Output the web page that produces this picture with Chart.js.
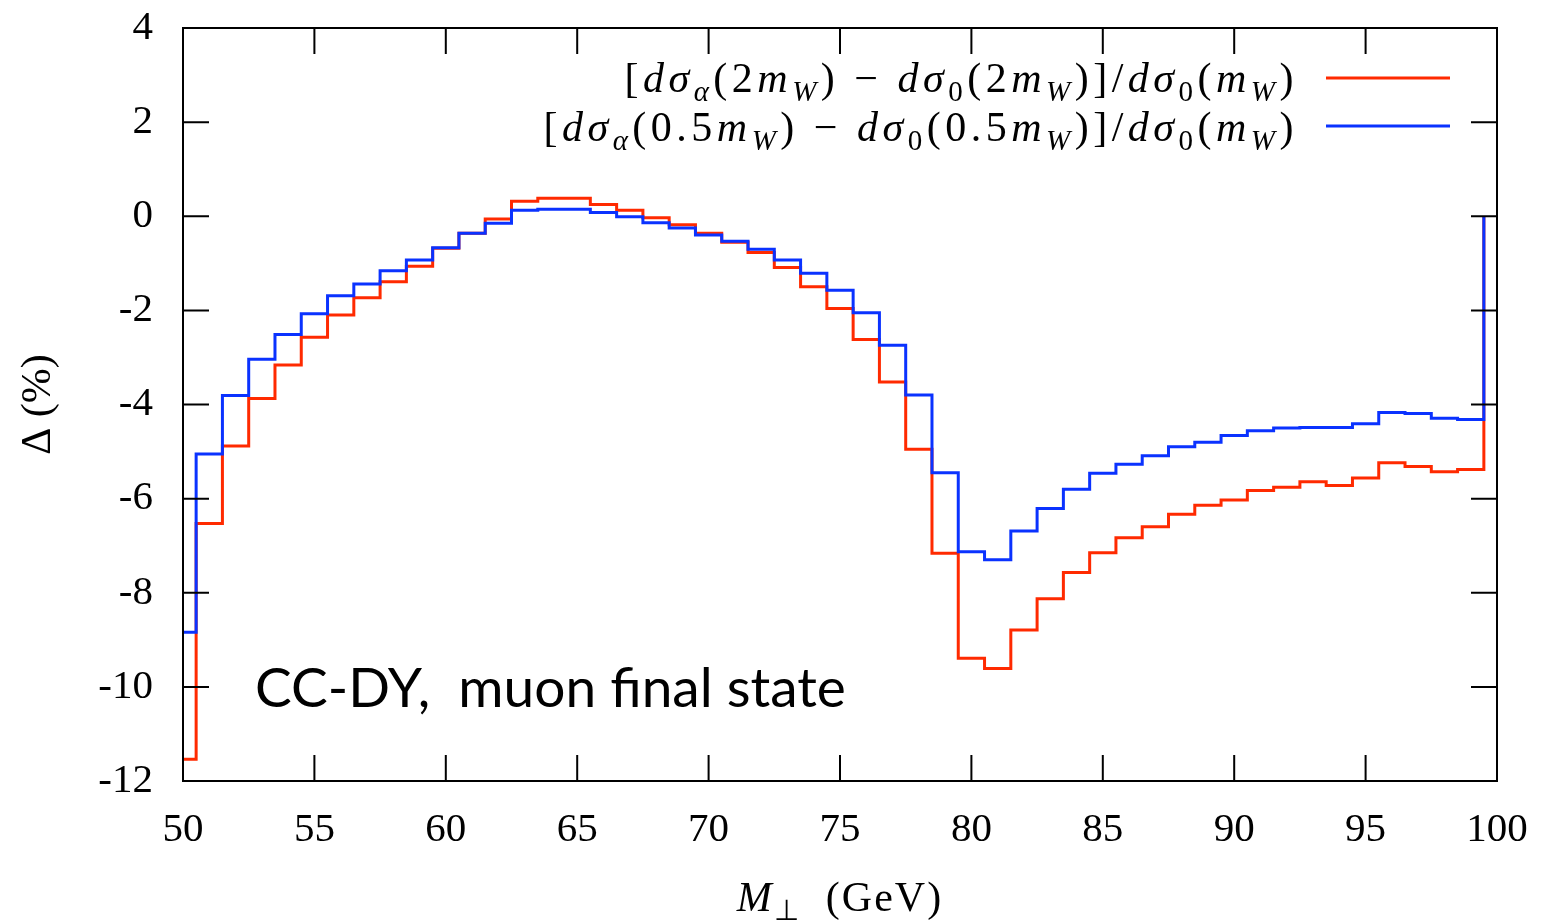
<!DOCTYPE html>
<html>
<head>
<meta charset="utf-8">
<title>CC-DY, muon final state</title>
<script src="https://cdn.jsdelivr.net/npm/chart.js@4/dist/chart.umd.min.js"></script>
<style>
  body { margin: 0; background: #fff; }
</style>
</head>
<body>
<canvas id="deltaChart" width="1542" height="922"></canvas>
<script>
// bin centres of M_perp (GeV), 1 GeV bins
const mPerp = [50, 51, 52, 53, 54, 55, 56, 57, 58, 59,
               60, 61, 62, 63, 64, 65, 66, 67, 68, 69,
               70, 71, 72, 73, 74, 75, 76, 77, 78, 79,
               80, 81, 82, 83, 84, 85, 86, 87, 88, 89,
               90, 91, 92, 93, 94, 95, 96, 97, 98, 99];
const binHalfWidth = 0.5;

// [dsigma_alpha(2mW) - dsigma_0(2mW)] / dsigma_0(mW)  (%)
const deltaTwoMw = [-11.54, -6.53, -4.88, -3.87, -3.16, -2.57, -2.10, -1.73, -1.39, -1.06,
                    -0.68, -0.36, -0.06, 0.32, 0.38, 0.38, 0.25, 0.13, -0.03, -0.18,
                    -0.36, -0.55, -0.77, -1.09, -1.50, -1.96, -2.62, -3.52, -4.95, -7.16,
                    -9.39, -9.61, -8.79, -8.13, -7.57, -7.15, -6.83, -6.60, -6.33, -6.14,
                    -6.03, -5.83, -5.76, -5.64, -5.72, -5.56, -5.24, -5.32, -5.43, -5.38];

// [dsigma_alpha(0.5mW) - dsigma_0(0.5mW)] / dsigma_0(mW)  (%)
const deltaHalfMw = [-8.84, -5.05, -3.81, -3.04, -2.51, -2.07, -1.69, -1.44, -1.16, -0.93,
                     -0.67, -0.36, -0.15, 0.13, 0.15, 0.15, 0.08, -0.01, -0.14, -0.25,
                     -0.40, -0.53, -0.70, -0.93, -1.21, -1.57, -2.05, -2.74, -3.80, -5.45,
                     -7.13, -7.30, -6.69, -6.21, -5.80, -5.46, -5.27, -5.09, -4.90, -4.80,
                     -4.66, -4.56, -4.50, -4.49, -4.49, -4.41, -4.17, -4.19, -4.29, -4.32];

const xTicks = [50, 55, 60, 65, 70, 75, 80, 85, 90, 95, 100];
const yTicks = [-12, -10, -8, -6, -4, -2, 0, 2, 4];

const redLine = '#ff2a00';
const blueLine = '#0a32ff';
const serif = '"Liberation Serif", serif';

// legend / title text, split into [text, style] pieces: i = italic, s = subscript
const legendTwoMw = [['[', ''], ['dσ', 'i'], ['α', 'is'], ['(2', ''], ['m', 'i'], ['W', 'is'],
  [') − ', ''], ['dσ', 'i'], ['0', 's'], ['(2', ''], ['m', 'i'], ['W', 'is'], [')]/', ''],
  ['dσ', 'i'], ['0', 's'], ['(', ''], ['m', 'i'], ['W', 'is'], [')', '']];
const legendHalfMw = [['[', ''], ['dσ', 'i'], ['α', 'is'], ['(0.5', ''], ['m', 'i'], ['W', 'is'],
  [') − ', ''], ['dσ', 'i'], ['0', 's'], ['(0.5', ''], ['m', 'i'], ['W', 'is'], [')]/', ''],
  ['dσ', 'i'], ['0', 's'], ['(', ''], ['m', 'i'], ['W', 'is'], [')', '']];
const xTitle = [['M', 'i'], ['⊥', 's'], ['  (GeV)', '']];
const yTitle = 'Δ (%)';
const note = 'CC-DY,  muon final state';

// histogram steps: centre points, then close the last bin back to zero
function histPoints(vals) {
  const pts = mPerp.map((m, i) => ({ x: m, y: vals[i] }));
  const last = mPerp[mPerp.length - 1] + binHalfWidth;
  pts.push({ x: last, y: vals[vals.length - 1] });
  pts.push({ x: last, y: 0 });
  return pts;
}

function richFont(st, size) {
  const sz = st.includes('s') ? size * 0.7 : size;
  return (st.includes('i') ? 'italic ' : '') + Math.round(sz) + 'px ' + serif;
}
function richWidth(ctx, parts, size) {
  let w = 0;
  parts.forEach(([t, st]) => { ctx.font = richFont(st, size); w += ctx.measureText(t).width; });
  return w;
}
function drawRich(ctx, parts, x, baseline, size) {
  parts.forEach(([t, st]) => {
    ctx.font = richFont(st, size);
    ctx.fillText(t, x, baseline + (st.includes('s') ? size * 0.22 : 0));
    x += ctx.measureText(t).width;
  });
}

// gnuplot-like frame, inward ticks on all sides, legend and labels
const framePlugin = {
  id: 'frame',
  afterDraw(chart) {
    const { ctx, chartArea: a, scales: { x, y } } = chart;
    ctx.save();
    ctx.strokeStyle = '#000';
    ctx.lineWidth = 2;
    const tl = 26;
    ctx.beginPath();
    xTicks.forEach(v => {
      const px = x.getPixelForValue(v);
      ctx.moveTo(px, a.bottom); ctx.lineTo(px, a.bottom - tl);
      ctx.moveTo(px, a.top); ctx.lineTo(px, a.top + tl);
    });
    yTicks.forEach(v => {
      const py = y.getPixelForValue(v);
      ctx.moveTo(a.left, py); ctx.lineTo(a.left + tl, py);
      ctx.moveTo(a.right, py); ctx.lineTo(a.right - tl, py);
    });
    ctx.stroke();
    ctx.strokeRect(a.left, a.top, a.right - a.left, a.bottom - a.top);

    // legend
    const size = 42;
    ctx.fillStyle = '#000';
    ctx.textBaseline = 'alphabetic';
    ctx.letterSpacing = '4.5px';
    const rows = [[legendTwoMw, redLine, 78, 92], [legendHalfMw, blueLine, 126, 141]];
    rows.forEach(([parts, col, ly, base]) => {
      const w = richWidth(ctx, parts, size);
      drawRich(ctx, parts, 1298 - w, base, size);
      ctx.strokeStyle = col;
      ctx.lineWidth = 3;
      ctx.beginPath();
      ctx.moveTo(1326, ly); ctx.lineTo(1450, ly);
      ctx.stroke();
    });

    // x axis title
    ctx.letterSpacing = '2px';
    const xw = richWidth(ctx, xTitle, 42);
    drawRich(ctx, xTitle, (a.left + a.right) / 2 - xw / 2, 911, 42);
    ctx.letterSpacing = '0px';

    // annotation
    ctx.font = '55px Lato, "Noto Sans", sans-serif';
    ctx.fillText(note, 255, 707);
    ctx.restore();
  }
};

// keep the plot box where gnuplot put it: no extra padding for overhanging labels
function noOverhang(s) {
  s.paddingTop = 0; s.paddingBottom = 0; s.paddingLeft = 0; s.paddingRight = 0;
}

const ctx = document.getElementById('deltaChart').getContext('2d');
new Chart(ctx, {
  type: 'line',
  data: {
    datasets: [
      {
        label: 'two_mW',
        data: histPoints(deltaTwoMw),
        borderColor: redLine,
        borderWidth: 3,
        stepped: 'middle',
        pointRadius: 0,
        fill: false,
        order: 1
      },
      {
        label: 'half_mW',
        data: histPoints(deltaHalfMw),
        borderColor: blueLine,
        borderWidth: 3,
        stepped: 'middle',
        pointRadius: 0,
        fill: false,
        order: 0
      }
    ]
  },
  options: {
    responsive: false,
    animation: false,
    layout: { padding: { top: 28, right: 45, left: 0, bottom: 0 } },
    plugins: { legend: { display: false }, tooltip: { enabled: false } },
    scales: {
      x: {
        type: 'linear',
        min: 50,
        max: 100,
        afterBuildTicks: s => { s.ticks = xTicks.map(v => ({ value: v })); },
        afterFit: s => { s.height = 141; noOverhang(s); },
        grid: { display: false },
        border: { display: false },
        ticks: { color: '#000', padding: 17, maxRotation: 0, font: { family: serif, size: 41 } }
      },
      y: {
        min: -12,
        max: 4,
        afterBuildTicks: s => { s.ticks = yTicks.map(v => ({ value: v })); },
        afterFit: s => { s.width = 183; noOverhang(s); },
        grid: { display: false },
        border: { display: false },
        ticks: { color: '#000', padding: 22, font: { family: serif, size: 41 } },
        title: { display: true, text: yTitle, color: '#000', padding: { top: 14, bottom: 0 }, font: { family: serif, size: 42 } }
      }
    }
  },
  plugins: [framePlugin]
});
</script>
</body>
</html>
